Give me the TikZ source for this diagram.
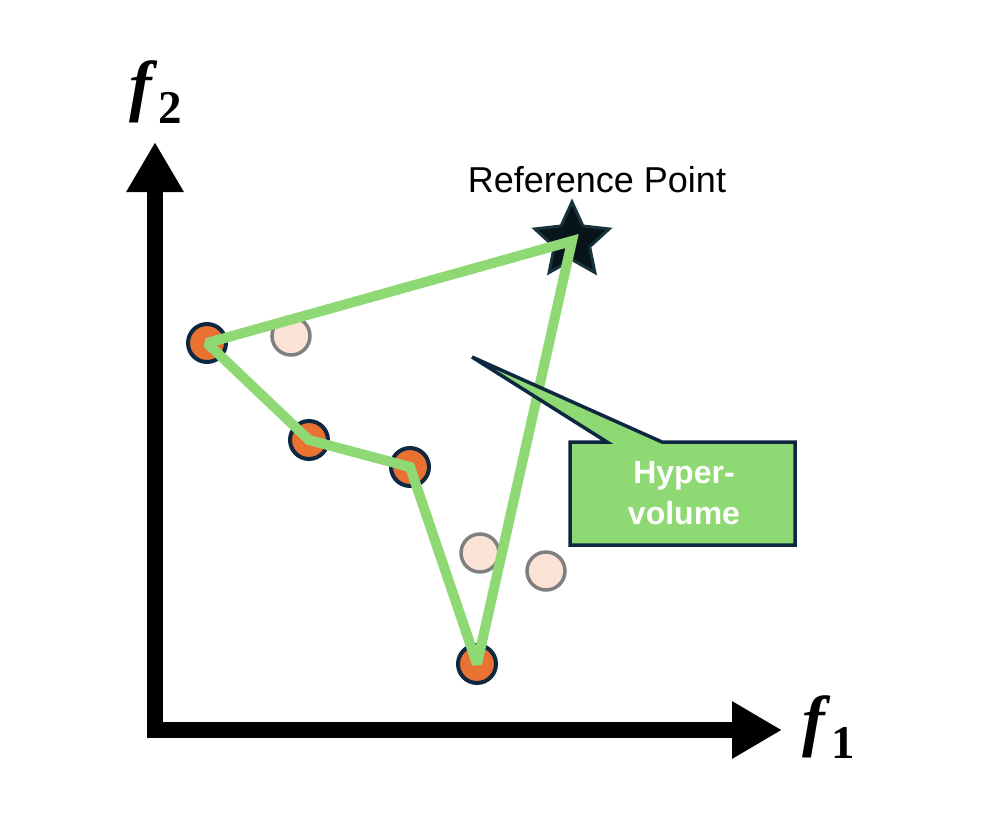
\documentclass[tikz,border=0pt]{standalone}
\usepackage{fontspec}
\setmainfont{Liberation Sans}
\newfontfamily\timesfont{Liberation Serif}
\usetikzlibrary{arrows.meta,shapes.geometric}
\definecolor{hvgreen}{HTML}{8ED973}
\definecolor{navy}{HTML}{0E2841}
\definecolor{ptorange}{HTML}{E97132}
\definecolor{pale}{HTML}{FBE3D6}
\definecolor{palegray}{HTML}{7F7F7F}
\definecolor{starfill}{HTML}{08141A}
\definecolor{staredge}{HTML}{17323A}
\newcommand{\axlabel}[2]{{\timesfont\fontsize{68}{68}\selectfont\bfseries\itshape #1}\hspace{7pt}\raisebox{-15pt}{\timesfont\fontsize{47}{47}\selectfont\bfseries #2}}
\begin{document}
\begin{tikzpicture}[x=1pt,y=-1pt,
  axis/.style={line width=16pt,line join=miter,
    {Triangle[length=50pt,width=54pt]}-{Triangle[length=50pt,width=54pt]}},
  front/.style={circle,fill=ptorange,draw=navy,line width=4pt,minimum size=38pt,inner sep=0pt},
  dom/.style={circle,fill=pale,draw=palegray,line width=3.5pt,minimum size=38pt,inner sep=0pt},
  hvline/.style={draw=hvgreen,line width=10pt,line join=miter,miter limit=2},
  callout/.style={fill=hvgreen,draw=navy,line width=3.5pt,line join=miter},
  calltext/.style={text=white,font=\bfseries\fontsize{32}{41}\selectfont,align=center,inner sep=0pt},
  reftext/.style={font=\fontsize{36}{36}\selectfont,inner sep=0pt,anchor=base}]
\useasboundingbox (0,0) rectangle (982,838);
% axes
\coordinate (O) at (155,730);
\coordinate (ytip) at (155,142);
\coordinate (xtip) at (782,730);
\draw[axis] (ytip) -- (O) -- (xtip);
\node[inner sep=0pt,anchor=base west] (f2) at (129,108) {\axlabel{f}{2}};
\node[inner sep=0pt,anchor=base west] (f1) at (802,743) {\axlabel{f}{1}};
% dominated points
\node[dom] (d1) at (291,336) {};
\node[dom] (d2) at (480,553) {};
\node[dom] (d3) at (546,571) {};
% front points
\node[front] (p1) at (207,343) {};
\node[front] (p2) at (309,440) {};
\node[front] (p3) at (410,467) {};
\node[front] (p4) at (477,664) {};
% reference point
\node[star,star points=5,star point ratio=2.1,minimum size=78pt,inner sep=0pt,
  fill=starfill,draw=staredge,line width=3pt] (ref) at (572,241) {};
\node[reftext] (reflabel) at (597,192) {Reference Point};
% hypervolume polygon
\draw[hvline] (ref.center) -- (p4.center) -- (p3.center) -- (p2.center) -- (p1.center) -- cycle;
% callout
\coordinate (c1) at (570,442);
\coordinate (wa) at (607,442);
\coordinate (tip) at (472,357);
\coordinate (wb) at (662,442);
\coordinate (c2) at (795,442);
\coordinate (c3) at (795,545);
\coordinate (c4) at (570,545);
\draw[callout] (c1) -- (wa) -- (tip) -- (wb) -- (c2) -- (c3) -- (c4) -- cycle;
\node[calltext] (hv) at (684,493) {Hyper-\\volume};
\end{tikzpicture}
\end{document}
